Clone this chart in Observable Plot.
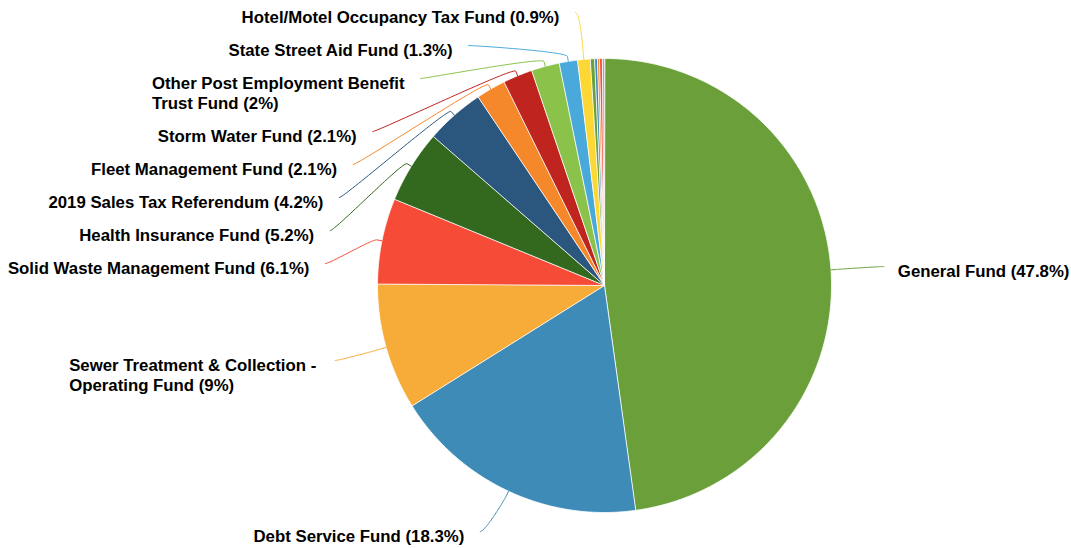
<!DOCTYPE html>
<html><head><meta charset="utf-8">
<script src="https://cdn.jsdelivr.net/npm/d3@7"></script>
<script src="https://cdn.jsdelivr.net/npm/@observablehq/plot@0.6"></script>
<style>html,body{margin:0;padding:0;background:#fff}#chart svg{display:block}</style>
</head><body><div id="chart"></div>
<script>
// ---- data ----
const funds = [
  "General Fund",
  "Debt Service Fund",
  "Sewer Treatment & Collection -\nOperating Fund",
  "Solid Waste Management Fund",
  "Health Insurance Fund",
  "2019 Sales Tax Referendum",
  "Fleet Management Fund",
  "Storm Water Fund",
  "Other Post Employment Benefit\nTrust Fund",
  "State Street Aid Fund",
  "Hotel/Motel Occupancy Tax Fund",
  "small fund 1", "small fund 2", "small fund 3", "small fund 4", "small fund 5"
];
const shares = [47.8, 18.3, 9, 6.1, 5.2, 4.2, 2.1, 2.1, 2, 1.3, 0.9, 0.3, 0.2, 0.15, 0.2, 0.15];
const palette = ["#6a9f3a","#3d8bb6","#f7ab38","#f64c37","#33691e","#2b577f","#f6882c","#c0241f",
                 "#8bc34a","#4aa9db","#fdd835","#6a9f3a","#3d8bb6","#f6882c","#f64c37","#a8a8a8"];

// ---- layout ----
const W = 1071, H = 548, cx = 604, cy = 285, R = 227, LRX = 280, LRY = 274.5;
const FS = 16.8, LH = 20, WRAP = 250;
const FAMILY = "'Liberation Sans', Arial, sans-serif";
const ctx = document.createElement("canvas").getContext("2d");
ctx.font = `bold ${FS}px ${FAMILY}`;
const measure = s => ctx.measureText(s).width;

const total = d3.sum(shares);
const slices = [];
let acc = 0;
funds.forEach((name, i) => {
  const a0 = acc / total * 2 * Math.PI;
  acc += shares[i];
  const a1 = acc / total * 2 * Math.PI;
  slices.push({name, value: shares[i], color: palette[i], a0, a1, mid: (a0 + a1) / 2});
});
const P = (a, r) => [cx + r * Math.sin(a), cy - r * Math.cos(a)];

// slice polygons
const sliceRows = [];
for (const s of slices) {
  sliceRows.push({name: s.name, color: s.color, x: cx, y: cy});
  const n = Math.max(2, Math.ceil((s.a1 - s.a0) / (Math.PI / 360)));
  for (let k = 0; k <= n; k++) {
    const [x, y] = P(s.a0 + (s.a1 - s.a0) * k / n, R);
    sliceRows.push({name: s.name, color: s.color, x, y});
  }
}

// labels
const labels = slices.filter(s => s.value >= 0.5).map(s => {
  const text = `${s.name} (${s.value}%)`;
  const lines = text.split("\n");
  return {
    ...s, text, lines: lines.length,
    width: d3.max(lines, measure),
    left: Math.sin(s.mid) < 0,
    ideal: cy - LRY * Math.cos(s.mid)
  };
});
function distribute(group) {
  group.sort((a, b) => a.ideal - b.ideal);
  const h = d => d.lines * LH + 13;
  group.forEach((d, i) => { d.slot = i === 0 ? Math.max(d.ideal, 12) : Math.max(d.ideal, group[i-1].slot + h(group[i-1])); });
  for (let i = group.length - 1; i >= 0; i--) {
    const d = group[i];
    const lim = i === group.length - 1 ? H - 17 - (d.lines - 1) * LH : group[i+1].slot - h(d);
    d.slot = Math.min(d.slot, lim);
  }
  group.forEach((d, i) => { d.slot = i === 0 ? Math.max(d.slot, 12) : Math.max(d.slot, group[i-1].slot + h(group[i-1])); });
}
distribute(labels.filter(d => d.left));
distribute(labels.filter(d => !d.left));

const connRows = [];
for (const d of labels) {
  const t0 = Math.max(-1, Math.min(1, (d.slot - cy) / LRY));
  const dx = LRX * Math.sqrt(1 - t0 * t0);
  d.cxEnd = d.left ? cx - dx : cx + dx;
  if (d.left) {
    d.tx = d.lines > 1 ? d.cxEnd - 16 - Math.max(WRAP, d.width) : d.cxEnd - 16;
    d.anchor = d.lines > 1 ? "start" : "end";
  } else {
    d.tx = d.cxEnd + 14;
    d.anchor = "start";
  }
  const touch = P(d.mid, R), brk = P(d.mid, R + 5);
  const p0 = [d.cxEnd, d.slot];
  const c1 = [d.cxEnd + (d.left ? 5 : -5), d.slot];
  const c2 = [2 * brk[0] - touch[0], 2 * brk[1] - touch[1]];
  const N = 40;
  for (let k = 0; k <= N; k++) {
    const t = k / N, u = 1 - t;
    const x = u*u*u*p0[0] + 3*u*u*t*c1[0] + 3*u*t*t*c2[0] + t*t*t*brk[0];
    const y = u*u*u*p0[1] + 3*u*u*t*c1[1] + 3*u*t*t*c2[1] + t*t*t*brk[1];
    connRows.push({name: d.name, color: d.color, x, y});
  }
  connRows.push({name: d.name, color: d.color, x: touch[0], y: touch[1]});
}

const textOpts = anchor => ({
  x: "tx", y: "slot", text: "text", textAnchor: anchor, lineAnchor: "top",
  dy: 10.5 - 0.71 * LH,
  fontSize: FS, fontWeight: "bold", lineHeight: LH / FS,
  fontFamily: FAMILY, fill: "#000"
});

const chart = Plot.plot({
  width: W, height: H, margin: 0,
  x: {domain: [0, W], range: [0, W], axis: null},
  y: {domain: [0, H], range: [0, H], axis: null},
  marks: [
    Plot.line(sliceRows, {x: "x", y: "y", z: "name", fill: "color", stroke: "#fff", strokeWidth: 0.8, strokeLinejoin: "round", curve: "linear-closed"}),
    Plot.line(connRows, {x: "x", y: "y", z: "name", stroke: "color", strokeWidth: 1}),
    Plot.text(labels.filter(d => d.anchor === "end"), textOpts("end")),
    Plot.text(labels.filter(d => d.anchor === "start"), textOpts("start"))
  ]
});
document.getElementById("chart").append(chart);
</script></body></html>
